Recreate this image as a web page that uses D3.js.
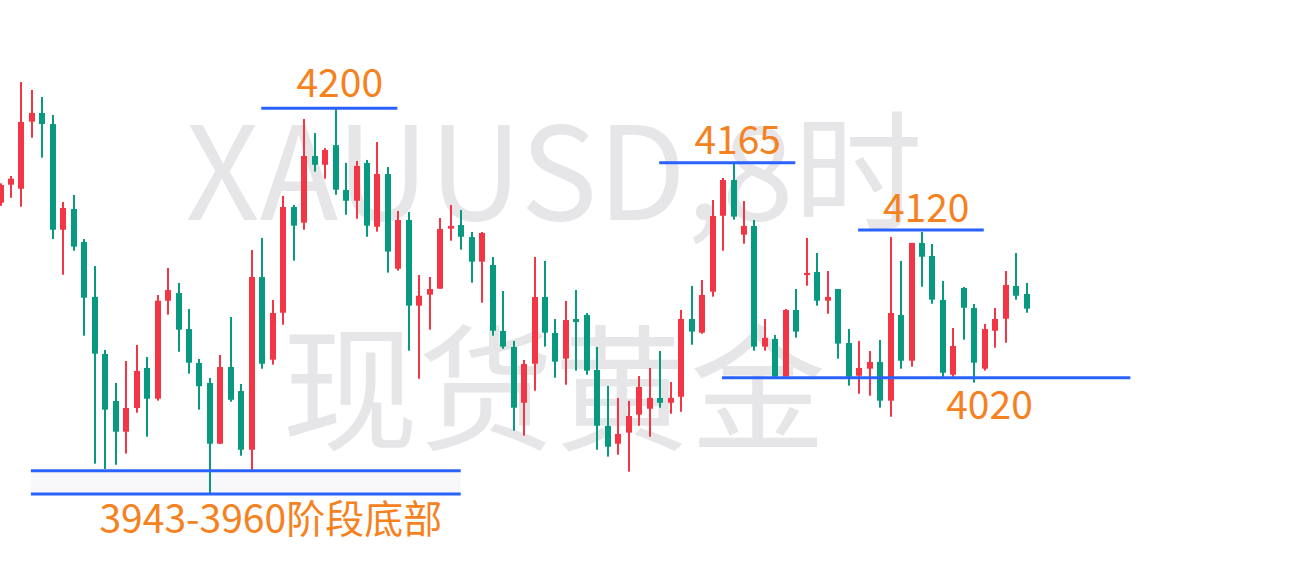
<!DOCTYPE html>
<html>
<head>
<meta charset="utf-8">
<script src="https://cdn.jsdelivr.net/npm/d3@7"></script>
<style>
  html, body { margin: 0; padding: 0; background: #ffffff; }
  svg { display: block; }
</style>
</head>
<body>
<svg id="chart" width="1304" height="582"></svg>
<script>
// ---- data (XAUUSD, 8h candles) ----
const opens  = [4137.1,4149.1,4146.4,4191.1,4196.9,4189.5,4119.1,4132.9,4110.9,4074.3,
                4036.3,4005.0,3984.5,4000.3,4027.0,4006.5,4071.8,4076.9,4052.9,4030.3,
                4017.0,3976.5,4027.6,4011.6,3972.5,4087.6,4032.5,4063.8,4134.2,4123.8,
                4168.2,4162.4,4175.5,4145.6,4138.4,4163.6,4121.1,4156.2,4093.1,4125.6,
                4068.5,4075.8,4079.8,4119.8,4122.2,4114.2,4097.8,4095.6,4051.6,4041.0,
                4003.8,4029.8,4074.3,4050.3,4033.2,4059.6,4062.3,4025.6,3988.3,3976.5,
                3983.9,3995.9,3999.8,4007.0,4003.8,4007.8,4059.6,4050.5,4077.8,4128.4,
                4152.2,4115.8,4121.6,4041.2,4046.3,4021.2,4065.6,4088.9,4090.9,4071.8,
                4079.6,4043.6,4021.8,4026.5,4031.0,4005.2,4062.3,4031.8,4110.3,4101.6,
                4072.3,4022.5,4080.3,4066.9,4026.5,4051.8,4059.8,4081.6,4076.3];
const highs  = [4150.0,4154.9,4217.5,4212.2,4207.5,4195.5,4137.6,4142.2,4112.9,4094.9,
                4039.0,4017.0,4031.6,4042.3,4034.3,4075.6,4093.6,4083.6,4066.3,4033.0,
                4020.3,4035.6,4060.9,4016.3,4105.6,4113.6,4072.3,4141.6,4135.6,4192.9,
                4183.5,4173.5,4200.2,4163.6,4164.9,4165.6,4177.5,4160.9,4131.6,4130.9,
                4088.9,4087.6,4126.9,4135.6,4132.2,4117.6,4117.6,4100.9,4078.3,4045.0,
                4032.3,4100.9,4098.3,4059.6,4071.6,4078.9,4063.6,4041.0,4015.0,4007.0,
                4005.0,4021.6,4027.0,4038.3,4017.6,4065.6,4081.6,4085.6,4138.9,4153.6,
                4163.6,4138.2,4125.6,4059.6,4049.0,4066.3,4079.6,4113.6,4103.6,4091.6,
                4079.6,4052.9,4045.0,4038.3,4045.6,4114.2,4098.3,4110.3,4117.6,4109.6,
                4084.9,4053.6,4080.9,4069.6,4056.3,4066.9,4091.6,4103.6,4083.6];
const lows   = [4135.0,4140.4,4134.4,4180.4,4167.1,4112.9,4089.1,4105.1,4048.5,3963.2,
                3959.7,3962.5,3969.9,3997.2,3981.2,4005.2,4062.5,4037.8,4023.2,3999.2,
                3943.7,3976.5,4004.5,3968.5,3959.0,4026.5,4029.2,4055.8,4098.5,4119.1,
                4157.8,4153.1,4142.4,4129.1,4126.4,4114.4,4117.8,4090.5,4091.8,4038.5,
                4019.8,4052.5,4079.8,4111.8,4105.8,4083.8,4070.5,4048.5,4039.8,3985.2,
                3981.9,4011.8,4041.2,4020.5,4015.8,4025.2,4022.5,3972.5,3967.9,3969.2,
                3957.9,3988.5,3981.2,4000.5,3996.5,3997.8,4042.5,4049.8,4074.5,4105.1,
                4125.8,4109.8,4038.5,4038.5,4021.2,4021.2,4047.2,4081.8,4068.5,4063.1,
                4033.2,4015.2,4009.8,4008.5,4000.5,3994.5,4026.5,4027.8,4081.1,4069.8,
                4021.2,4021.2,4045.8,4017.2,4025.2,4040.5,4043.8,4072.5,4063.8];
const closes = [4148.9,4153.1,4190.9,4196.9,4189.5,4119.1,4133.6,4107.8,4073.8,4036.5,
                3999.2,3984.5,4000.3,4025.0,4006.5,4071.8,4078.9,4052.5,4030.5,4014.8,
                3976.5,4027.6,4005.8,3972.5,4087.6,4029.8,4063.6,4134.2,4121.8,4168.2,
                4162.4,4172.2,4145.8,4138.4,4161.6,4121.8,4156.2,4104.5,4125.6,4068.5,
                4075.1,4079.6,4119.6,4121.6,4114.4,4097.8,4116.9,4051.8,4041.2,4000.5,
                4029.6,4074.3,4050.5,4031.2,4058.9,4057.6,4025.2,3988.5,3974.5,3983.0,
                3995.0,4014.3,4007.0,4003.8,4007.0,4059.6,4051.2,4075.6,4128.2,4152.2,
                4127.8,4121.6,4041.2,4047.0,4021.2,4065.6,4051.2,4090.3,4071.8,4074.3,
                4043.2,4021.2,4027.0,4031.0,4005.2,4063.6,4031.8,4110.3,4101.1,4072.5,
                4023.8,4041.6,4067.1,4030.5,4052.9,4059.6,4082.3,4075.1,4066.5];

// support / resistance levels: price, start & end (candle index)
const levelPrices = [4200.0, 4163.8, 4118.9, 4020.5, 3958.5, 3943.0];
const levelStart  = [24.9, 62.9, 81.9, 68.9, 2.9, 2.9];
const levelEnd    = [37.9, 75.9, 93.9, 107.9, 43.95, 43.95];

// annotation labels
const labelTexts  = ["4200", "4165", "4120", "4020", "3943-3960阶段底部"];
const labelIndex  = [32.4, 70.4, 88.4, 94.45, 9.45];
const labelPrice  = [4200.0, 4163.8, 4118.9, 4020.5, 3943.0];
const labelDy     = [-11, -9, -8, 41, 39];
const labelAnchor = ["middle", "middle", "middle", "middle", "start"];

const watermark1 = "XAUUSD,8时";
const watermark2 = "现货黄金";

// ---- drawing ----
const W = 1304, H = 582;
const svg = d3.select("#chart");
svg.append("rect").attr("width", W).attr("height", H).attr("fill", "#ffffff");

const x = d3.scaleLinear().domain([0, 98]).range([0.5, 1026.7]);
const y = d3.scaleLinear().domain([3943, 4200]).range([494, 108.3]);

const UP = "#f23645", DOWN = "#089981", BLUE = "#2962ff", ORANGE = "#f5821f";
const CJK = "'Noto Sans CJK SC', 'Noto Sans', sans-serif";

// watermark
const wm = svg.append("g").attr("fill", "#e6e6e9").attr("font-family", CJK).attr("text-anchor", "middle");
wm.append("text").attr("x", 554).attr("y", 220).attr("font-size", 129).text(watermark1);
wm.append("text").attr("x", 554).attr("y", 440).attr("font-size", 136).text(watermark2);

// light band between the two bottom levels
svg.append("rect")
  .attr("x", x(levelStart[4])).attr("width", x(levelEnd[4]) - x(levelStart[4]))
  .attr("y", y(levelPrices[4])).attr("height", y(levelPrices[5]) - y(levelPrices[4]))
  .attr("fill", "#f8f8fa");

// candles
const data = opens.map((o, i) => ({ i, o, h: highs[i], l: lows[i], c: closes[i] }));
const g = svg.append("g");
const cg = g.selectAll("g.candle").data(data).join("g").attr("class", "candle");
cg.append("rect")
  .attr("x", d => Math.round(x(d.i)) - 1).attr("width", 2)
  .attr("y", d => y(d.h)).attr("height", d => Math.max(1, y(d.l) - y(d.h)))
  .attr("fill", d => d.c >= d.o ? UP : DOWN);
cg.append("rect")
  .attr("x", d => Math.round(x(d.i)) - 3).attr("width", 6)
  .attr("y", d => y(Math.max(d.o, d.c)))
  .attr("height", d => Math.max(2, Math.abs(y(d.o) - y(d.c))))
  .attr("fill", d => d.c >= d.o ? UP : DOWN);

// levels
svg.append("g").selectAll("line").data(levelPrices).join("line")
  .attr("x1", (p, k) => x(levelStart[k])).attr("x2", (p, k) => x(levelEnd[k]))
  .attr("y1", p => y(p)).attr("y2", p => y(p))
  .attr("stroke", BLUE).attr("stroke-width", 3);

// labels
svg.append("g").selectAll("text").data(labelTexts).join("text")
  .attr("x", (t, k) => x(labelIndex[k]))
  .attr("y", (t, k) => y(labelPrice[k]) + labelDy[k])
  .attr("text-anchor", (t, k) => labelAnchor[k])
  .attr("font-family", CJK).attr("font-size", 39).attr("fill", ORANGE)
  .text(t => t);
</script>
</body>
</html>
